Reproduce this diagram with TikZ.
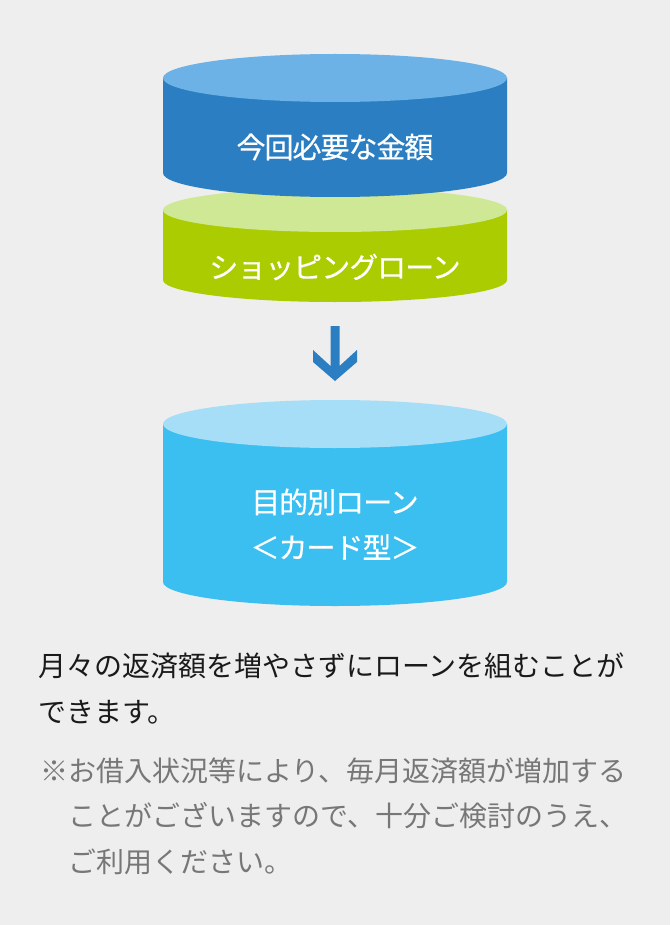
\documentclass[tikz,border=0pt]{standalone}
\usepackage{fontspec}
\setmainfont{Noto Sans CJK JP}
\newfontfamily\jplbl[LetterSpace=-3.5,FakeBold=0.4]{Noto Sans CJK JP}
\newfontfamily\jpbody{Noto Sans CJK JP}
\definecolor{bgc}{HTML}{EEEEEE}
\definecolor{bluebody}{HTML}{2B7EC1}
\definecolor{bluetop}{HTML}{6CB2E6}
\definecolor{greenbody}{HTML}{AACC00}
\definecolor{greentop}{HTML}{CFE896}
\definecolor{skybody}{HTML}{3BBEF0}
\definecolor{skytop}{HTML}{A6DEF8}
\definecolor{maintext}{HTML}{1A1A1A}
\definecolor{notetext}{HTML}{777777}
\newcommand\drawcyl[7]{%
  \fill[#6] (#1-#2,#3) -- (#1-#2,#4) arc[start angle=180,end angle=360,x radius=#2pt,y radius=#5pt] -- (#1+#2,#3) -- cycle;
  \fill[#7] (#1,#3) ellipse[x radius=#2pt,y radius=#5pt];
}
\tikzset{
  lbl/.style={text=white,inner sep=0pt,font=\jplbl\fontsize{29}{34}\selectfont},
  bodytxt/.style={text=maintext,inner sep=0pt,anchor=west,font=\jpbody\fontsize{28}{34}\selectfont},
  notetxt/.style={text=notetext,inner sep=0pt,anchor=west,font=\jpbody\fontsize{28}{34}\selectfont},
}
\begin{document}
\begin{tikzpicture}[x=1pt,y=-1pt]
\fill[bgc] (0,0) rectangle (670,925);
\useasboundingbox (0,0) rectangle (670,925);
% green cylinder (behind)
\drawcyl{335}{172}{210}{280}{22}{greenbody}{greentop}
% blue cylinder
\drawcyl{335}{172}{78}{173}{24}{bluebody}{bluetop}
% sky cylinder
\drawcyl{335}{172}{424}{582}{24}{skybody}{skytop}
% labels
\node[lbl] (t1) at (335,147) {今回必要な金額};
\node[lbl] (t2) at (335,267) {ショッピングローン};
\node[lbl] (t3) at (335,502) {目的別ローン};
\node[lbl] (t4) at (335,547) {＜カード型＞};
% arrow
\fill[bluebody] (330.5,326) -- (339.5,326) -- (339.5,366) -- (357,350) -- (357,362) -- (335,381) -- (313,362) -- (313,350) -- (330.5,366) -- cycle;
% body text
\node[bodytxt] (m1) at (38,666) {月々の返済額を増やさずにローンを組むことが};
\node[bodytxt] (m2) at (38,712) {できます。};
\node[notetxt] (n1) at (40,771) {※お借入状況等により、毎月返済額が増加する};
\node[notetxt] (n2) at (68,816) {ことがございますので、十分ご検討のうえ、};
\node[notetxt] (n3) at (68,862) {ご利用ください。};
\end{tikzpicture}
\end{document}
